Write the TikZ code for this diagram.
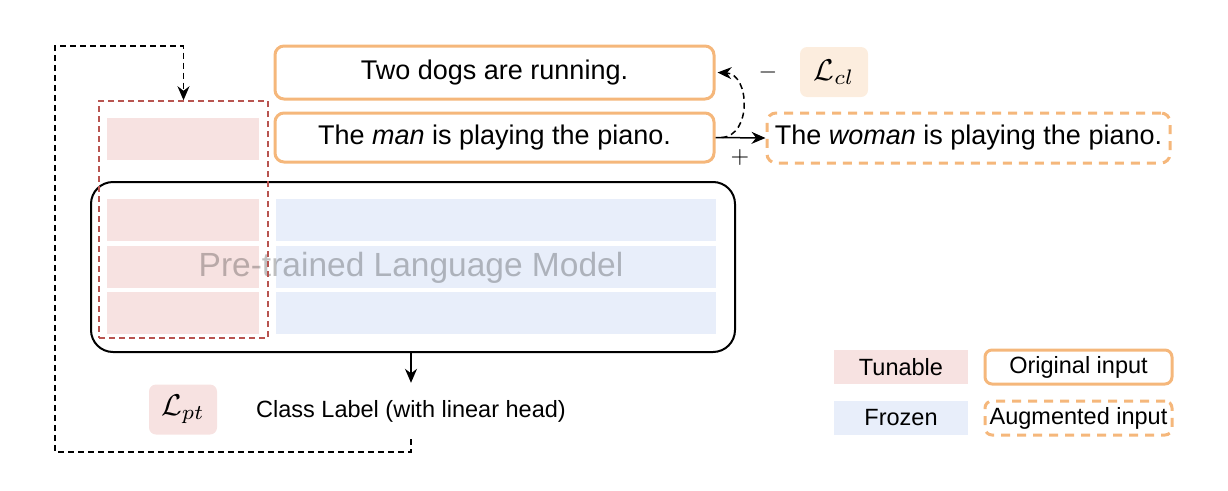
\documentclass[tikz,border=0pt]{standalone}
\usepackage{fontspec}
\setmainfont{Liberation Sans}
\usetikzlibrary{arrows.meta,calc}
\definecolor{orng}{HTML}{F5B77B}
\definecolor{pinkf}{HTML}{F7E2E1}
\definecolor{bluef}{HTML}{E8EEFA}
\definecolor{lclf}{HTML}{FCEDDE}
\definecolor{redd}{HTML}{B85450}
\tikzset{
  orig/.style={draw=orng, line width=3pt, rounded corners=9pt, minimum width=439pt, inner sep=0pt, font=\fontsize{27}{32}\selectfont},
  aug/.style={draw=orng, line width=3pt, dash pattern=on 9pt off 7pt, rounded corners=9pt, inner sep=0pt, font=\fontsize{27}{32}\selectfont},
  tune/.style={fill=pinkf, draw=none, minimum width=152pt, minimum height=42pt, inner sep=0pt},
  froz/.style={fill=bluef, draw=none, minimum width=440pt, minimum height=42pt, inner sep=0pt},
  lossbox/.style={rounded corners=7pt, minimum width=68pt, minimum height=50pt, inner sep=0pt},
  legtxt/.style={minimum width=134pt, minimum height=34pt, inner sep=0pt, font=\fontsize{23.5}{28}\selectfont},
  legbox/.style={draw=orng, line width=3pt, rounded corners=7pt, minimum width=187pt, minimum height=34pt, inner sep=0pt, font=\fontsize{23.5}{28}\selectfont},
  arr/.style={-{Stealth[length=14pt,width=12pt]}, line width=1.5pt},
  dsh/.style={dash pattern=on 6pt off 4pt, line width=1.5pt},
}
\begin{document}
\begin{tikzpicture}[x=1pt,y=-1pt]
\useasboundingbox (0,0) rectangle (1228,490);
% PLM box
\node[draw=black, line width=2pt, rounded corners=22pt, minimum width=644pt, minimum height=170pt] (plm) at (413,267) {};
\node[tune] (t0) at (183,139) {};
\node[tune] (t1) at (183,220) {};
\node[tune] (t2) at (183,266.5) {};
\node[tune] (t3) at (183,313) {};
\node[froz] (f1) at (496,220) {};
\node[froz] (f2) at (496,266.5) {};
\node[froz] (f3) at (496,313) {};
\node[text=black, text opacity=0.25, font=\fontsize{33.5}{40}\selectfont] (plmlbl) at (411,268) {Pre-trained Language Model};
\node[draw=redd, line width=1.5pt, dash pattern=on 6pt off 4pt, minimum width=169pt, minimum height=237pt, inner sep=0pt] (red) at (183.5,219.5) {};
% inputs
\node[orig, minimum height=53pt] (two) at (494.5,72.5) {Two dogs are running.};
\node[orig, minimum height=49pt] (man) at (494.5,137.5) {The \textit{man} is playing the piano.};
\node[aug, minimum width=403pt, minimum height=50pt] (woman) at (968.5,138) {The \textit{woman} is playing the piano.};
\node[lossbox, fill=lclf] (lcl) at (834,72) {\scalebox{3.0}{$\mathcal{L}_{cl}$}};
\node (minus) at (768,72) {\scalebox{2.4}{$-$}};
\node (plus) at (740,157) {\scalebox{2.4}{$+$}};
\draw[arr] (man.east) -- (woman.west);
\draw[arr, dsh] ([xshift=6pt]man.east) .. controls (752,136) and (750,74) .. ([xshift=2pt]two.east);
% output
\node[minimum height=56pt, inner sep=0pt, font=\fontsize{23.5}{28}\selectfont] (cls) at (411,411) {Class Label (with linear head)};
\draw[arr] (cls.north |- plm.south) -- (cls.north);
\node[lossbox, fill=pinkf] (lpt) at (183,409.5) {\scalebox{3.0}{$\mathcal{L}_{pt}$}};
\coordinate (lbl) at (55,452);
\coordinate (ltl) at (55,46);
\draw[arr, dsh] (cls.south) -- (cls.south |- lbl) -- (lbl) -- (ltl) -- (ltl -| red.north) -- (red.north);
% legend
\node[legtxt, fill=pinkf] (legt) at (901,367) {Tunable};
\node[legtxt, fill=bluef] (legf) at (901,418) {Frozen};
\node[legbox] (lego) at (1078.5,367) {Original input};
\node[legbox, dash pattern=on 9pt off 7pt] (lega) at (1078.5,418) {Augmented input};
\end{tikzpicture}
\end{document}
